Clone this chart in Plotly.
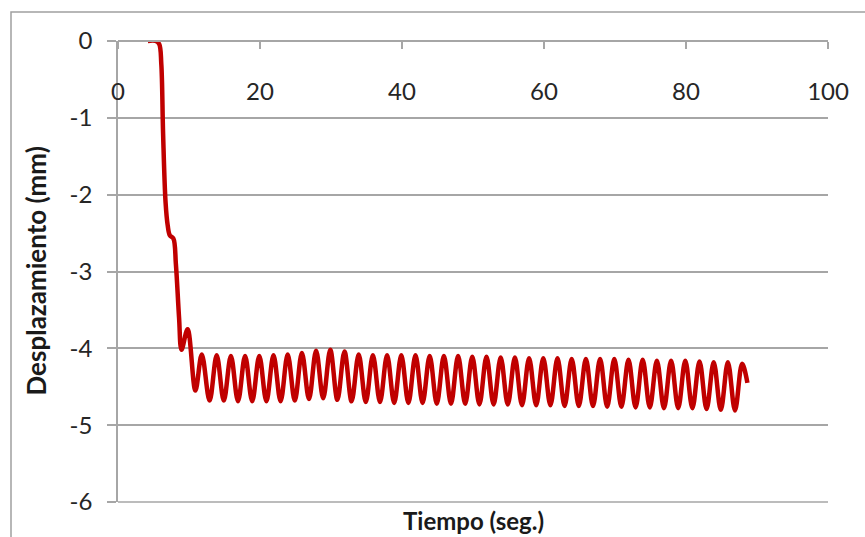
import plotly.graph_objects as go

# --- data ---
ramp_t = [4.2, 5.3, 5.8, 6.1, 6.35, 6.7, 7.0, 7.3, 7.8, 8.15, 8.6, 8.95, 9.8, 10.9, 11.8, 12.9]
ramp_v = [0.0, 0.0, -0.04, -0.3, -1.2, -2.1, -2.4, -2.53, -2.57, -2.9, -3.6, -4.02, -3.75, -4.55, -4.08, -4.68]

peak_t = [13.9, 15.9, 17.9, 19.9, 21.9, 23.9, 25.9, 27.9, 29.9, 31.9,
          33.9, 35.9, 37.9, 39.9, 41.9, 43.9, 45.9, 47.9, 49.9, 51.9,
          53.9, 55.9, 57.9, 59.9, 61.9, 63.9, 65.9, 67.9, 69.9, 71.9,
          73.9, 75.9, 77.9, 79.9, 81.9, 83.9, 85.9, 87.9]
peak_v = [-4.09, -4.10, -4.10, -4.10, -4.09, -4.08, -4.06, -4.03, -4.02, -4.04,
          -4.08, -4.09, -4.09, -4.09, -4.09, -4.10, -4.10, -4.10, -4.11, -4.11,
          -4.12, -4.12, -4.13, -4.13, -4.13, -4.14, -4.14, -4.14, -4.14, -4.15,
          -4.15, -4.16, -4.16, -4.16, -4.17, -4.18, -4.18, -4.20]

trough_t = [14.9, 16.9, 18.9, 20.9, 22.9, 24.9, 26.9, 28.9, 30.9, 32.9,
            34.9, 36.9, 38.9, 40.9, 42.9, 44.9, 46.9, 48.9, 50.9, 52.9,
            54.9, 56.9, 58.9, 60.9, 62.9, 64.9, 66.9, 68.9, 70.9, 72.9,
            74.9, 76.9, 78.9, 80.9, 82.9, 84.9, 86.9]
trough_v = [-4.68, -4.69, -4.69, -4.69, -4.69, -4.68, -4.66, -4.65, -4.67, -4.69,
            -4.70, -4.70, -4.71, -4.71, -4.71, -4.72, -4.72, -4.72, -4.73, -4.73,
            -4.73, -4.74, -4.74, -4.74, -4.75, -4.75, -4.75, -4.76, -4.76, -4.77,
            -4.77, -4.78, -4.78, -4.78, -4.79, -4.80, -4.81]

end_t = [88.65]
end_v = [-4.45]

x_ticks = [0, 20, 40, 60, 80, 100]
x_labels = ["0", "20", "40", "60", "80", "100"]
y_ticks = [0, -1, -2, -3, -4, -5, -6]
y_labels = ["0", "-1", "-2", "-3", "-4", "-5", "-6"]

pts = sorted(zip(ramp_t + peak_t + trough_t + end_t, ramp_v + peak_v + trough_v + end_v))
t_all = [p[0] for p in pts]
v_all = [p[1] for p in pts]

FONT = "Lato"
GRID = "#A6A6A6"
TICKFONT = dict(family=FONT, size=24, color="#262626")

fig = go.Figure()
fig.add_trace(go.Scatter(
    x=t_all, y=v_all, mode="lines",
    line=dict(color="#C00000", width=4.5, shape="spline", smoothing=1.0),
    showlegend=False, hoverinfo="skip"))

fig.update_layout(
    width=865, height=537,
    margin=dict(l=118, r=37, t=41, b=35),
    paper_bgcolor="white", plot_bgcolor="white",
    font=dict(family=FONT, size=22, color="#262626"),
    xaxis=dict(range=[0, 100], side="bottom", anchor="free", position=1,
               tickvals=x_ticks, ticktext=x_labels,
               ticks="outside", ticklen=7, tickcolor=GRID, tickwidth=1.5,
               ticklabelstandoff=22,
               showline=True, linecolor=GRID, linewidth=1.5,
               showgrid=False, zeroline=False, tickfont=TICKFONT),
    yaxis=dict(range=[-6, 0], tickvals=y_ticks, ticktext=y_labels,
               ticks="outside", ticklen=9, tickcolor=GRID, tickwidth=1.5,
               showline=True, linecolor=GRID, linewidth=1.5,
               showgrid=True, gridcolor=GRID, gridwidth=1.5, zeroline=False,
               ticklabelstandoff=10, tickfont=TICKFONT),
    annotations=[
        dict(text="<b>Tiempo (seg.)</b>", xref="paper", yref="paper",
             x=0.5, y=-(520 - 502) / 461, xanchor="center", yanchor="middle", showarrow=False,
             font=dict(family=FONT, size=24, color="#1a1a1a")),
        dict(text="<b>Desplazamiento (mm)</b>", xref="paper", yref="paper",
             x=(35 - 118) / 710, y=0.5, xanchor="center", yanchor="middle",
             textangle=-90, showarrow=False,
             font=dict(family=FONT, size=26, color="#1a1a1a")),
    ],
    shapes=[
        dict(type="line", xref="paper", yref="paper",
             x0=0, x1=1, y0=0, y1=0, line=dict(color=GRID, width=1.5)),
        dict(type="rect", xref="paper", yref="paper",
             x0=(11 - 118) / 710, x1=(880 - 118) / 710,
             y0=-0.3, y1=(502 - 12) / 461,
             line=dict(color="#A0A0A0", width=1.5), layer="below"),
    ],
)

fig.write_html("out.html")
